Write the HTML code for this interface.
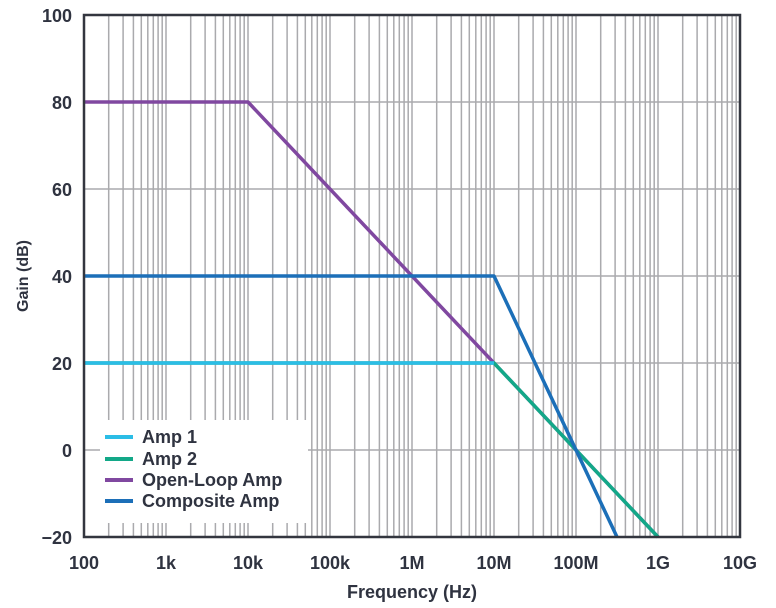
<!DOCTYPE html>
<html><head><style>body{margin:0;background:#fff}svg{display:block}text{font-family:"Liberation Sans",sans-serif;font-weight:bold;fill:#2f3340}</style></head><body>
<svg width="776" height="608" xmlns="http://www.w3.org/2000/svg">
<defs>
<g id="dec" stroke="#aaaaad" stroke-width="1.5">
<line x1="0" y1="15" x2="0" y2="537"/>
<line x1="24.7" y1="15" x2="24.7" y2="537"/>
<line x1="39.1" y1="15" x2="39.1" y2="537"/>
<line x1="49.4" y1="15" x2="49.4" y2="537"/>
<line x1="57.3" y1="15" x2="57.3" y2="537"/>
<line x1="63.8" y1="15" x2="63.8" y2="537"/>
<line x1="69.3" y1="15" x2="69.3" y2="537"/>
<line x1="74.1" y1="15" x2="74.1" y2="537"/>
<line x1="78.2" y1="15" x2="78.2" y2="537"/>
</g>
</defs>
<use href="#dec" x="84"/><use href="#dec" x="166"/><use href="#dec" x="248"/><use href="#dec" x="330"/>
<use href="#dec" x="412"/><use href="#dec" x="494"/><use href="#dec" x="576"/><use href="#dec" x="658"/>
<g stroke="#aaaaad" stroke-width="1.5">
<line x1="84" y1="102" x2="740" y2="102"/><line x1="84" y1="189" x2="740" y2="189"/>
<line x1="84" y1="276" x2="740" y2="276"/><line x1="84" y1="363" x2="740" y2="363"/>
<line x1="84" y1="450" x2="740" y2="450"/>
</g>
<rect x="100" y="420" width="208" height="103" fill="#fff"/>
<g fill="none" stroke-width="3.5" stroke-linejoin="round">
<polyline points="84,102 248,102 658,537" stroke="#8048a0"/>
<polyline points="84,363 494,363 658,537" stroke="#13a888"/>
<polyline points="84,363 494,363" stroke="#2bbde6"/>
<polyline points="84,276 494,276 617,537" stroke="#1c6fb8"/>
</g>
<rect x="84" y="15" width="656" height="522" fill="none" stroke="#33363f" stroke-width="2.5"/>
<g font-size="18" text-anchor="end">
<text x="72" y="22">100</text><text x="72" y="109">80</text><text x="72" y="196">60</text><text x="72" y="283">40</text><text x="72" y="370">20</text><text x="72" y="457">0</text><text x="72" y="544">−20</text>
</g>
<g font-size="18" text-anchor="middle">
<text x="84" y="569">100</text><text x="166" y="569">1k</text><text x="248" y="569">10k</text><text x="330" y="569">100k</text><text x="412" y="569">1M</text><text x="494" y="569">10M</text><text x="576" y="569">100M</text><text x="658" y="569">1G</text><text x="740" y="569">10G</text>
<text x="412" y="598">Frequency (Hz)</text>
<text transform="translate(28,276) rotate(-90)" font-size="16">Gain (dB)</text>
</g>
<g stroke-width="4">
<line x1="105" y1="437" x2="133" y2="437" stroke="#2bbde6"/>
<line x1="105" y1="459" x2="133" y2="459" stroke="#13a888"/>
<line x1="105" y1="480" x2="133" y2="480" stroke="#8048a0"/>
<line x1="105" y1="501" x2="133" y2="501" stroke="#1c6fb8"/>
</g>
<g font-size="18">
<text x="142" y="443">Amp 1</text><text x="142" y="465">Amp 2</text><text x="142" y="486">Open-Loop Amp</text><text x="142" y="507">Composite Amp</text>
</g>
</svg>
</body></html>
